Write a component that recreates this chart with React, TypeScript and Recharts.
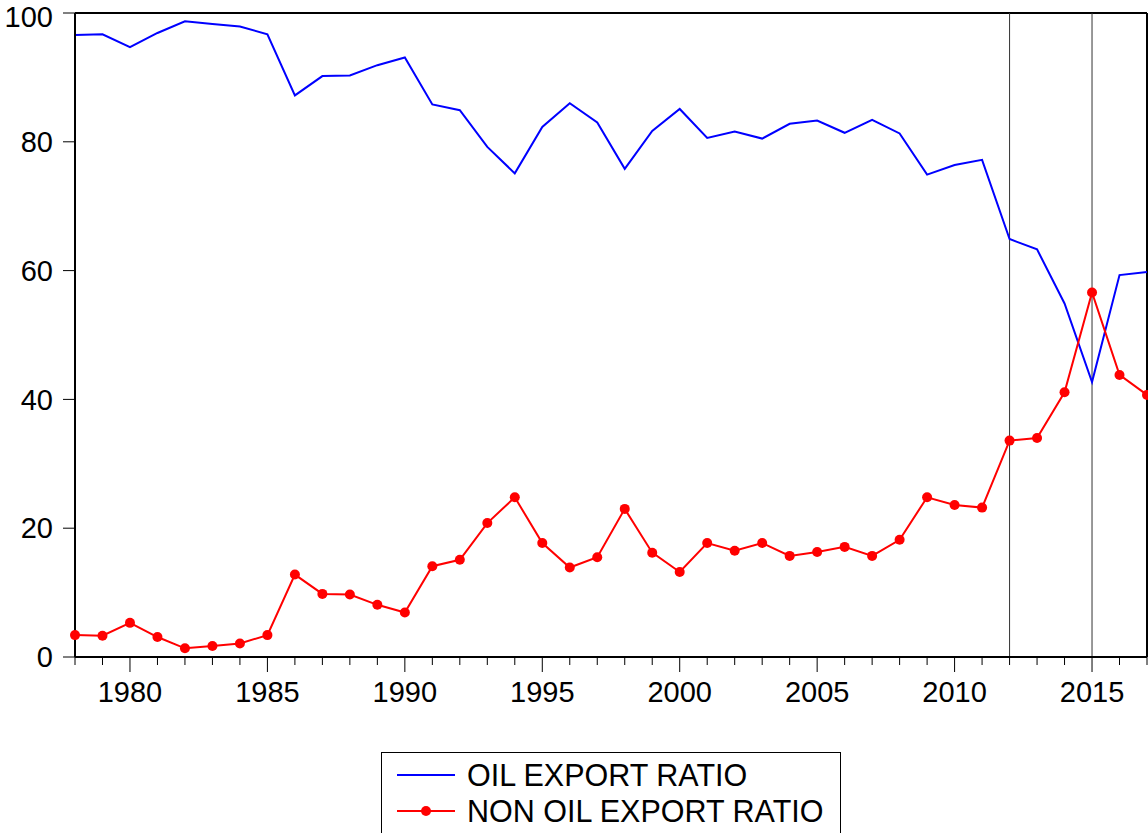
import React from 'react';
import {
  LineChart,
  Line,
  XAxis,
  YAxis,
  ReferenceLine,
  Legend,
} from 'recharts';

const years = [
  1978, 1979, 1980, 1981, 1982, 1983, 1984, 1985, 1986, 1987,
  1988, 1989, 1990, 1991, 1992, 1993, 1994, 1995, 1996, 1997,
  1998, 1999, 2000, 2001, 2002, 2003, 2004, 2005, 2006, 2007,
  2008, 2009, 2010, 2011, 2012, 2013, 2014, 2015, 2016, 2017,
];

const oilRatio = [
  96.6, 96.7, 94.7, 96.9, 98.7, 98.3, 97.9, 96.7, 87.2, 90.2,
  90.3, 91.9, 93.1, 85.8, 84.9, 79.2, 75.1, 82.3, 86.0, 83.0,
  75.8, 81.7, 85.1, 80.6, 81.6, 80.5, 82.8, 83.3, 81.4, 83.4,
  81.3, 74.9, 76.4, 77.2, 64.9, 63.3, 54.9, 42.7, 59.3, 59.8,
];

const nonOilRatio = [
  3.4, 3.3, 5.3, 3.1, 1.35, 1.7, 2.1, 3.4, 12.8, 9.8,
  9.7, 8.1, 6.9, 14.1, 15.1, 20.8, 24.8, 17.7, 13.9, 15.5,
  23.0, 16.2, 13.2, 17.7, 16.5, 17.7, 15.7, 16.3, 17.1, 15.7,
  18.2, 24.8, 23.6, 23.2, 33.6, 34.0, 41.1, 56.6, 43.8, 40.7,
];

const yTicks = [0, 20, 40, 60, 80, 100];
const markedYears = [2012, 2015];

const FONT = '"Liberation Sans", Arial, sans-serif';

const data = years.map((year, i) => ({
  year,
  oil: oilRatio[i],
  nonOil: nonOilRatio[i],
}));

function YearTick(props: any) {
  const { x, y, payload } = props;
  const major = payload.value % 5 === 0;
  return (
    <g>
      <line x1={x} x2={x} y1={y} y2={y + (major ? 15 : 8)} stroke="#000" strokeWidth={1} />
      {major && (
        <text x={x} y={y + 45} textAnchor="middle" fontSize={29} fontFamily={FONT} fill="#000">
          {payload.value}
        </text>
      )}
    </g>
  );
}

function ChartLegend() {
  return (
    <div
      style={{
        width: 460,
        height: 81,
        boxSizing: 'border-box',
        border: '1px solid #000',
        borderBottom: 'none',
        background: '#fff',
      }}
    >
      <svg width={458} height={80} style={{ display: 'block' }}>
        <line x1={15} x2={73} y1={22} y2={22} stroke="#0000ff" strokeWidth={2} />
        <text x={85} y={33} fontSize={30.5} fontFamily={FONT} fill="#000">
          OIL EXPORT RATIO
        </text>
        <line x1={15} x2={73} y1={58} y2={58} stroke="#ff0000" strokeWidth={2} />
        <circle cx={44} cy={58} r={5} fill="#ff0000" />
        <text x={85} y={69} fontSize={30.5} fontFamily={FONT} fill="#000">
          NON OIL EXPORT RATIO
        </text>
      </svg>
    </div>
  );
}

export default function App() {
  return (
    <div style={{ width: 1148, height: 833, background: '#fff', overflow: 'hidden' }}>
      <style>{'body{margin:0;overflow:hidden;}'}</style>
      <LineChart
        width={1148}
        height={833}
        data={data}
        margin={{ top: 13, right: 1, left: 0, bottom: 116 }}
      >
        <XAxis
          dataKey="year"
          type="number"
          domain={[1978, 2017]}
          ticks={years}
          interval={0}
          height={60}
          tickSize={0}
          tickMargin={0}
          tickLine={false}
          axisLine={{ stroke: '#000', strokeWidth: 2 }}
          tick={<YearTick />}
        />
        <YAxis
          type="number"
          domain={[0, 100]}
          ticks={yTicks}
          width={75}
          tickSize={12}
          tickMargin={10}
          axisLine={{ stroke: '#000', strokeWidth: 2 }}
          tickLine={{ stroke: '#000', strokeWidth: 1 }}
          tick={{ fill: '#000', fontSize: 29, fontFamily: FONT }}
        />
        <ReferenceLine y={100} stroke="#000" strokeWidth={2} />
        <ReferenceLine x={2017} stroke="#000" strokeWidth={2} />
        {markedYears.map((yr) => (
          <ReferenceLine key={yr} x={yr} stroke="#333" strokeWidth={1} />
        ))}
        <Line
          type="linear"
          dataKey="oil"
          name="OIL EXPORT RATIO"
          stroke="#0000ff"
          strokeWidth={2}
          dot={false}
          isAnimationActive={false}
        />
        <Line
          type="linear"
          dataKey="nonOil"
          name="NON OIL EXPORT RATIO"
          stroke="#ff0000"
          strokeWidth={2}
          dot={{ r: 5, fill: '#ff0000', stroke: '#ff0000', strokeWidth: 0 }}
          isAnimationActive={false}
        />
        <Legend
          layout="vertical"
          align="center"
          verticalAlign="middle"
          content={<ChartLegend />}
          wrapperStyle={{ position: 'absolute', left: 381, top: 752, width: 460, height: 81 }}
        />
      </LineChart>
    </div>
  );
}
